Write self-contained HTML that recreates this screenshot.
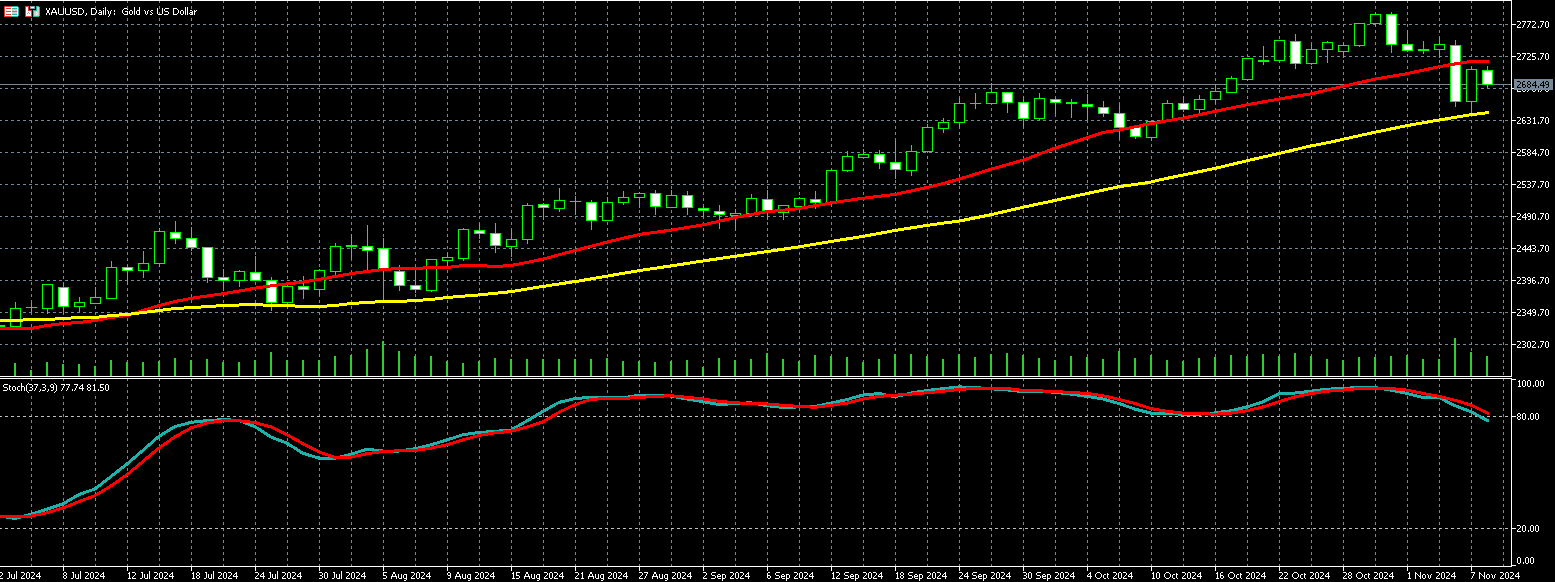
<!DOCTYPE html>
<html><head><meta charset="utf-8"><title>XAUUSD, Daily</title>
<style>
html,body{margin:0;padding:0;background:#000;overflow:hidden}
svg{display:block}
text{font-family:"Liberation Sans",sans-serif;fill:#fff}
</style></head><body>
<svg width="1555" height="582" viewBox="0 0 1555 582" shape-rendering="crispEdges">
<rect x="0" y="0" width="1555" height="582" fill="#000"/>
<g stroke="#778899" stroke-width="1" stroke-dasharray="3 3" fill="none">
<line x1="31.5" y1="0" x2="31.5" y2="376"/><line x1="31.5" y1="378" x2="31.5" y2="566"/>
<line x1="63.5" y1="0" x2="63.5" y2="376"/><line x1="63.5" y1="378" x2="63.5" y2="566"/>
<line x1="95.5" y1="0" x2="95.5" y2="376"/><line x1="95.5" y1="378" x2="95.5" y2="566"/>
<line x1="127.5" y1="0" x2="127.5" y2="376"/><line x1="127.5" y1="378" x2="127.5" y2="566"/>
<line x1="159.5" y1="0" x2="159.5" y2="376"/><line x1="159.5" y1="378" x2="159.5" y2="566"/>
<line x1="191.5" y1="0" x2="191.5" y2="376"/><line x1="191.5" y1="378" x2="191.5" y2="566"/>
<line x1="223.5" y1="0" x2="223.5" y2="376"/><line x1="223.5" y1="378" x2="223.5" y2="566"/>
<line x1="255.5" y1="0" x2="255.5" y2="376"/><line x1="255.5" y1="378" x2="255.5" y2="566"/>
<line x1="287.5" y1="0" x2="287.5" y2="376"/><line x1="287.5" y1="378" x2="287.5" y2="566"/>
<line x1="319.5" y1="0" x2="319.5" y2="376"/><line x1="319.5" y1="378" x2="319.5" y2="566"/>
<line x1="351.5" y1="0" x2="351.5" y2="376"/><line x1="351.5" y1="378" x2="351.5" y2="566"/>
<line x1="383.5" y1="0" x2="383.5" y2="376"/><line x1="383.5" y1="378" x2="383.5" y2="566"/>
<line x1="415.5" y1="0" x2="415.5" y2="376"/><line x1="415.5" y1="378" x2="415.5" y2="566"/>
<line x1="447.5" y1="0" x2="447.5" y2="376"/><line x1="447.5" y1="378" x2="447.5" y2="566"/>
<line x1="479.5" y1="0" x2="479.5" y2="376"/><line x1="479.5" y1="378" x2="479.5" y2="566"/>
<line x1="511.5" y1="0" x2="511.5" y2="376"/><line x1="511.5" y1="378" x2="511.5" y2="566"/>
<line x1="543.5" y1="0" x2="543.5" y2="376"/><line x1="543.5" y1="378" x2="543.5" y2="566"/>
<line x1="575.5" y1="0" x2="575.5" y2="376"/><line x1="575.5" y1="378" x2="575.5" y2="566"/>
<line x1="607.5" y1="0" x2="607.5" y2="376"/><line x1="607.5" y1="378" x2="607.5" y2="566"/>
<line x1="639.5" y1="0" x2="639.5" y2="376"/><line x1="639.5" y1="378" x2="639.5" y2="566"/>
<line x1="671.5" y1="0" x2="671.5" y2="376"/><line x1="671.5" y1="378" x2="671.5" y2="566"/>
<line x1="703.5" y1="0" x2="703.5" y2="376"/><line x1="703.5" y1="378" x2="703.5" y2="566"/>
<line x1="735.5" y1="0" x2="735.5" y2="376"/><line x1="735.5" y1="378" x2="735.5" y2="566"/>
<line x1="767.5" y1="0" x2="767.5" y2="376"/><line x1="767.5" y1="378" x2="767.5" y2="566"/>
<line x1="799.5" y1="0" x2="799.5" y2="376"/><line x1="799.5" y1="378" x2="799.5" y2="566"/>
<line x1="831.5" y1="0" x2="831.5" y2="376"/><line x1="831.5" y1="378" x2="831.5" y2="566"/>
<line x1="863.5" y1="0" x2="863.5" y2="376"/><line x1="863.5" y1="378" x2="863.5" y2="566"/>
<line x1="895.5" y1="0" x2="895.5" y2="376"/><line x1="895.5" y1="378" x2="895.5" y2="566"/>
<line x1="927.5" y1="0" x2="927.5" y2="376"/><line x1="927.5" y1="378" x2="927.5" y2="566"/>
<line x1="959.5" y1="0" x2="959.5" y2="376"/><line x1="959.5" y1="378" x2="959.5" y2="566"/>
<line x1="991.5" y1="0" x2="991.5" y2="376"/><line x1="991.5" y1="378" x2="991.5" y2="566"/>
<line x1="1023.5" y1="0" x2="1023.5" y2="376"/><line x1="1023.5" y1="378" x2="1023.5" y2="566"/>
<line x1="1055.5" y1="0" x2="1055.5" y2="376"/><line x1="1055.5" y1="378" x2="1055.5" y2="566"/>
<line x1="1087.5" y1="0" x2="1087.5" y2="376"/><line x1="1087.5" y1="378" x2="1087.5" y2="566"/>
<line x1="1119.5" y1="0" x2="1119.5" y2="376"/><line x1="1119.5" y1="378" x2="1119.5" y2="566"/>
<line x1="1151.5" y1="0" x2="1151.5" y2="376"/><line x1="1151.5" y1="378" x2="1151.5" y2="566"/>
<line x1="1183.5" y1="0" x2="1183.5" y2="376"/><line x1="1183.5" y1="378" x2="1183.5" y2="566"/>
<line x1="1215.5" y1="0" x2="1215.5" y2="376"/><line x1="1215.5" y1="378" x2="1215.5" y2="566"/>
<line x1="1247.5" y1="0" x2="1247.5" y2="376"/><line x1="1247.5" y1="378" x2="1247.5" y2="566"/>
<line x1="1279.5" y1="0" x2="1279.5" y2="376"/><line x1="1279.5" y1="378" x2="1279.5" y2="566"/>
<line x1="1311.5" y1="0" x2="1311.5" y2="376"/><line x1="1311.5" y1="378" x2="1311.5" y2="566"/>
<line x1="1343.5" y1="0" x2="1343.5" y2="376"/><line x1="1343.5" y1="378" x2="1343.5" y2="566"/>
<line x1="1375.5" y1="0" x2="1375.5" y2="376"/><line x1="1375.5" y1="378" x2="1375.5" y2="566"/>
<line x1="1407.5" y1="0" x2="1407.5" y2="376"/><line x1="1407.5" y1="378" x2="1407.5" y2="566"/>
<line x1="1439.5" y1="0" x2="1439.5" y2="376"/><line x1="1439.5" y1="378" x2="1439.5" y2="566"/>
<line x1="1471.5" y1="0" x2="1471.5" y2="376"/><line x1="1471.5" y1="378" x2="1471.5" y2="566"/>
<line x1="1503.5" y1="0" x2="1503.5" y2="376"/><line x1="1503.5" y1="378" x2="1503.5" y2="566"/>
<line x1="-1" y1="24.5" x2="1511" y2="24.5"/>
<line x1="-1" y1="56.5" x2="1511" y2="56.5"/>
<line x1="-1" y1="88.5" x2="1511" y2="88.5"/>
<line x1="-1" y1="120.5" x2="1511" y2="120.5"/>
<line x1="-1" y1="152.5" x2="1511" y2="152.5"/>
<line x1="-1" y1="184.5" x2="1511" y2="184.5"/>
<line x1="-1" y1="216.5" x2="1511" y2="216.5"/>
<line x1="-1" y1="248.5" x2="1511" y2="248.5"/>
<line x1="-1" y1="280.5" x2="1511" y2="280.5"/>
<line x1="-1" y1="312.5" x2="1511" y2="312.5"/>
<line x1="-1" y1="344.5" x2="1511" y2="344.5"/>
</g>
<g stroke="#c0c0c0" stroke-width="1" stroke-dasharray="3 3" fill="none">
<line x1="-1" y1="416.5" x2="1511" y2="416.5"/>
<line x1="-1" y1="528.5" x2="1511" y2="528.5"/>
</g>
<rect x="0" y="84" width="1511" height="1" fill="#778899"/>
<g fill="#32cd32">
<rect x="14" y="363" width="2" height="13"/><rect x="30" y="370" width="2" height="6"/><rect x="46" y="362" width="2" height="14"/><rect x="62" y="364" width="2" height="12"/><rect x="78" y="364" width="2" height="12"/><rect x="94" y="366" width="2" height="10"/><rect x="110" y="360" width="2" height="16"/><rect x="126" y="362" width="2" height="14"/><rect x="142" y="362" width="2" height="14"/><rect x="158" y="361" width="2" height="15"/><rect x="174" y="358" width="2" height="18"/><rect x="190" y="360" width="2" height="16"/><rect x="206" y="359" width="2" height="17"/><rect x="222" y="362" width="2" height="14"/><rect x="238" y="362" width="2" height="14"/><rect x="254" y="360" width="2" height="16"/><rect x="270" y="352" width="2" height="24"/><rect x="286" y="360" width="2" height="16"/><rect x="302" y="360" width="2" height="16"/><rect x="318" y="360" width="2" height="16"/><rect x="334" y="356" width="2" height="20"/><rect x="350" y="355" width="2" height="21"/><rect x="366" y="349" width="2" height="27"/><rect x="382" y="341" width="2" height="35"/><rect x="398" y="351" width="2" height="25"/><rect x="414" y="356" width="2" height="20"/><rect x="430" y="356" width="2" height="20"/><rect x="446" y="361" width="2" height="15"/><rect x="462" y="363" width="2" height="13"/><rect x="478" y="361" width="2" height="15"/><rect x="494" y="358" width="2" height="18"/><rect x="510" y="359" width="2" height="17"/><rect x="526" y="359" width="2" height="17"/><rect x="542" y="359" width="2" height="17"/><rect x="558" y="359" width="2" height="17"/><rect x="574" y="359" width="2" height="17"/><rect x="590" y="359" width="2" height="17"/><rect x="606" y="358" width="2" height="18"/><rect x="622" y="361" width="2" height="15"/><rect x="638" y="361" width="2" height="15"/><rect x="654" y="362" width="2" height="14"/><rect x="670" y="361" width="2" height="15"/><rect x="686" y="360" width="2" height="16"/><rect x="702" y="367" width="2" height="9"/><rect x="718" y="358" width="2" height="18"/><rect x="734" y="360" width="2" height="16"/><rect x="750" y="359" width="2" height="17"/><rect x="766" y="353" width="2" height="23"/><rect x="782" y="359" width="2" height="17"/><rect x="798" y="361" width="2" height="15"/><rect x="814" y="355" width="2" height="21"/><rect x="830" y="356" width="2" height="20"/><rect x="846" y="357" width="2" height="19"/><rect x="862" y="362" width="2" height="14"/><rect x="878" y="359" width="2" height="17"/><rect x="894" y="354" width="2" height="22"/><rect x="910" y="354" width="2" height="22"/><rect x="926" y="356" width="2" height="20"/><rect x="942" y="359" width="2" height="17"/><rect x="958" y="354" width="2" height="22"/><rect x="974" y="357" width="2" height="19"/><rect x="990" y="354" width="2" height="22"/><rect x="1006" y="353" width="2" height="23"/><rect x="1022" y="355" width="2" height="21"/><rect x="1038" y="358" width="2" height="18"/><rect x="1054" y="360" width="2" height="16"/><rect x="1070" y="356" width="2" height="20"/><rect x="1086" y="357" width="2" height="19"/><rect x="1102" y="359" width="2" height="17"/><rect x="1118" y="351" width="2" height="25"/><rect x="1134" y="358" width="2" height="18"/><rect x="1150" y="355" width="2" height="21"/><rect x="1166" y="360" width="2" height="16"/><rect x="1182" y="361" width="2" height="15"/><rect x="1198" y="358" width="2" height="18"/><rect x="1214" y="357" width="2" height="19"/><rect x="1230" y="355" width="2" height="21"/><rect x="1246" y="356" width="2" height="20"/><rect x="1262" y="354" width="2" height="22"/><rect x="1278" y="356" width="2" height="20"/><rect x="1294" y="353" width="2" height="23"/><rect x="1310" y="356" width="2" height="20"/><rect x="1326" y="359" width="2" height="17"/><rect x="1342" y="360" width="2" height="16"/><rect x="1358" y="357" width="2" height="19"/><rect x="1374" y="357" width="2" height="19"/><rect x="1390" y="356" width="2" height="20"/><rect x="1406" y="355" width="2" height="21"/><rect x="1422" y="359" width="2" height="17"/><rect x="1438" y="359" width="2" height="17"/><rect x="1454" y="338" width="2" height="38"/><rect x="1470" y="352" width="2" height="24"/><rect x="1486" y="356" width="2" height="20"/>
</g>
<g>
<rect x="0" y="325" width="5" height="2" fill="#00ff00"/>
<rect x="15" y="302" width="1" height="25" fill="#00ff00"/><rect x="10" y="308" width="11" height="19" fill="#00ff00"/><rect x="11" y="309" width="9" height="17" fill="#000"/>
<rect x="31" y="303" width="1" height="9" fill="#00ff00"/><rect x="26" y="307" width="11" height="1" fill="#00ff00"/>
<rect x="47" y="284" width="1" height="30" fill="#00ff00"/><rect x="42" y="284" width="11" height="25" fill="#00ff00"/><rect x="43" y="285" width="9" height="23" fill="#000"/>
<rect x="63" y="284" width="1" height="30" fill="#00ff00"/><rect x="58" y="287" width="11" height="20" fill="#00ff00"/><rect x="59" y="288" width="9" height="18" fill="#fff"/>
<rect x="79" y="297" width="1" height="15" fill="#00ff00"/><rect x="74" y="302" width="11" height="5" fill="#00ff00"/><rect x="75" y="303" width="9" height="3" fill="#000"/>
<rect x="95" y="287" width="1" height="17" fill="#00ff00"/><rect x="90" y="297" width="11" height="7" fill="#00ff00"/><rect x="91" y="298" width="9" height="5" fill="#000"/>
<rect x="111" y="261" width="1" height="38" fill="#00ff00"/><rect x="106" y="267" width="11" height="32" fill="#00ff00"/><rect x="107" y="268" width="9" height="30" fill="#000"/>
<rect x="127" y="265" width="1" height="20" fill="#00ff00"/><rect x="122" y="267" width="11" height="4" fill="#00ff00"/><rect x="123" y="268" width="9" height="2" fill="#fff"/>
<rect x="143" y="251" width="1" height="27" fill="#00ff00"/><rect x="138" y="263" width="11" height="8" fill="#00ff00"/><rect x="139" y="264" width="9" height="6" fill="#000"/>
<rect x="159" y="228" width="1" height="39" fill="#00ff00"/><rect x="154" y="231" width="11" height="33" fill="#00ff00"/><rect x="155" y="232" width="9" height="31" fill="#000"/>
<rect x="175" y="221" width="1" height="23" fill="#00ff00"/><rect x="170" y="232" width="11" height="7" fill="#00ff00"/><rect x="171" y="233" width="9" height="5" fill="#fff"/>
<rect x="191" y="227" width="1" height="24" fill="#00ff00"/><rect x="186" y="238" width="11" height="10" fill="#00ff00"/><rect x="187" y="239" width="9" height="8" fill="#fff"/>
<rect x="207" y="247" width="1" height="36" fill="#00ff00"/><rect x="202" y="247" width="11" height="31" fill="#00ff00"/><rect x="203" y="248" width="9" height="29" fill="#fff"/>
<rect x="223" y="269" width="1" height="22" fill="#00ff00"/><rect x="218" y="277" width="11" height="4" fill="#00ff00"/><rect x="219" y="278" width="9" height="2" fill="#fff"/>
<rect x="239" y="270" width="1" height="17" fill="#00ff00"/><rect x="234" y="271" width="11" height="10" fill="#00ff00"/><rect x="235" y="272" width="9" height="8" fill="#000"/>
<rect x="255" y="256" width="1" height="25" fill="#00ff00"/><rect x="250" y="272" width="11" height="9" fill="#00ff00"/><rect x="251" y="273" width="9" height="7" fill="#fff"/>
<rect x="271" y="277" width="1" height="34" fill="#00ff00"/><rect x="266" y="280" width="11" height="23" fill="#00ff00"/><rect x="267" y="281" width="9" height="21" fill="#fff"/>
<rect x="287" y="285" width="1" height="24" fill="#00ff00"/><rect x="282" y="286" width="11" height="17" fill="#00ff00"/><rect x="283" y="287" width="9" height="15" fill="#000"/>
<rect x="303" y="276" width="1" height="23" fill="#00ff00"/><rect x="298" y="286" width="11" height="4" fill="#00ff00"/><rect x="299" y="287" width="9" height="2" fill="#fff"/>
<rect x="319" y="269" width="1" height="27" fill="#00ff00"/><rect x="314" y="270" width="11" height="20" fill="#00ff00"/><rect x="315" y="271" width="9" height="18" fill="#000"/>
<rect x="335" y="243" width="1" height="32" fill="#00ff00"/><rect x="330" y="246" width="11" height="26" fill="#00ff00"/><rect x="331" y="247" width="9" height="24" fill="#000"/>
<rect x="351" y="234" width="1" height="25" fill="#00ff00"/><rect x="346" y="245" width="11" height="2" fill="#00ff00"/>
<rect x="367" y="225" width="1" height="45" fill="#00ff00"/><rect x="362" y="246" width="11" height="5" fill="#00ff00"/><rect x="363" y="247" width="9" height="3" fill="#fff"/>
<rect x="383" y="238" width="1" height="63" fill="#00ff00"/><rect x="378" y="248" width="11" height="22" fill="#00ff00"/><rect x="379" y="249" width="9" height="20" fill="#fff"/>
<rect x="399" y="265" width="1" height="26" fill="#00ff00"/><rect x="394" y="271" width="11" height="15" fill="#00ff00"/><rect x="395" y="272" width="9" height="13" fill="#fff"/>
<rect x="415" y="271" width="1" height="22" fill="#00ff00"/><rect x="410" y="285" width="11" height="5" fill="#00ff00"/><rect x="411" y="286" width="9" height="3" fill="#fff"/>
<rect x="431" y="259" width="1" height="33" fill="#00ff00"/><rect x="426" y="259" width="11" height="32" fill="#00ff00"/><rect x="427" y="260" width="9" height="30" fill="#000"/>
<rect x="447" y="253" width="1" height="13" fill="#00ff00"/><rect x="442" y="257" width="11" height="4" fill="#00ff00"/><rect x="443" y="258" width="9" height="2" fill="#000"/>
<rect x="463" y="228" width="1" height="33" fill="#00ff00"/><rect x="458" y="229" width="11" height="30" fill="#00ff00"/><rect x="459" y="230" width="9" height="28" fill="#000"/>
<rect x="479" y="224" width="1" height="15" fill="#00ff00"/><rect x="474" y="230" width="11" height="4" fill="#00ff00"/><rect x="475" y="231" width="9" height="2" fill="#fff"/>
<rect x="495" y="223" width="1" height="30" fill="#00ff00"/><rect x="490" y="233" width="11" height="13" fill="#00ff00"/><rect x="491" y="234" width="9" height="11" fill="#fff"/>
<rect x="511" y="229" width="1" height="28" fill="#00ff00"/><rect x="506" y="239" width="11" height="8" fill="#00ff00"/><rect x="507" y="240" width="9" height="6" fill="#000"/>
<rect x="527" y="203" width="1" height="41" fill="#00ff00"/><rect x="522" y="205" width="11" height="35" fill="#00ff00"/><rect x="523" y="206" width="9" height="33" fill="#000"/>
<rect x="543" y="203" width="1" height="17" fill="#00ff00"/><rect x="538" y="204" width="11" height="4" fill="#00ff00"/><rect x="539" y="205" width="9" height="2" fill="#fff"/>
<rect x="559" y="188" width="1" height="24" fill="#00ff00"/><rect x="554" y="200" width="11" height="9" fill="#00ff00"/><rect x="555" y="201" width="9" height="7" fill="#000"/>
<rect x="575" y="196" width="1" height="19" fill="#00ff00"/><rect x="570" y="201" width="11" height="1" fill="#00ff00"/>
<rect x="591" y="200" width="1" height="30" fill="#00ff00"/><rect x="586" y="202" width="11" height="19" fill="#00ff00"/><rect x="587" y="203" width="9" height="17" fill="#fff"/>
<rect x="607" y="197" width="1" height="24" fill="#00ff00"/><rect x="602" y="202" width="11" height="19" fill="#00ff00"/><rect x="603" y="203" width="9" height="17" fill="#000"/>
<rect x="623" y="191" width="1" height="14" fill="#00ff00"/><rect x="618" y="197" width="11" height="6" fill="#00ff00"/><rect x="619" y="198" width="9" height="4" fill="#000"/>
<rect x="639" y="192" width="1" height="16" fill="#00ff00"/><rect x="634" y="193" width="11" height="5" fill="#00ff00"/><rect x="635" y="194" width="9" height="3" fill="#000"/>
<rect x="655" y="190" width="1" height="25" fill="#00ff00"/><rect x="650" y="193" width="11" height="14" fill="#00ff00"/><rect x="651" y="194" width="9" height="12" fill="#fff"/>
<rect x="671" y="190" width="1" height="18" fill="#00ff00"/><rect x="666" y="195" width="11" height="13" fill="#00ff00"/><rect x="667" y="196" width="9" height="11" fill="#000"/>
<rect x="687" y="191" width="1" height="24" fill="#00ff00"/><rect x="682" y="195" width="11" height="13" fill="#00ff00"/><rect x="683" y="196" width="9" height="11" fill="#fff"/>
<rect x="703" y="206" width="1" height="11" fill="#00ff00"/><rect x="698" y="208" width="11" height="3" fill="#00ff00"/><rect x="699" y="209" width="9" height="1" fill="#fff"/>
<rect x="719" y="205" width="1" height="24" fill="#00ff00"/><rect x="714" y="211" width="11" height="4" fill="#00ff00"/><rect x="715" y="212" width="9" height="2" fill="#fff"/>
<rect x="735" y="209" width="1" height="22" fill="#00ff00"/><rect x="730" y="213" width="11" height="3" fill="#00ff00"/><rect x="731" y="214" width="9" height="1" fill="#000"/>
<rect x="751" y="194" width="1" height="20" fill="#00ff00"/><rect x="746" y="198" width="11" height="16" fill="#00ff00"/><rect x="747" y="199" width="9" height="14" fill="#000"/>
<rect x="767" y="190" width="1" height="30" fill="#00ff00"/><rect x="762" y="199" width="11" height="12" fill="#00ff00"/><rect x="763" y="200" width="9" height="10" fill="#fff"/>
<rect x="783" y="205" width="1" height="15" fill="#00ff00"/><rect x="778" y="205" width="11" height="8" fill="#00ff00"/><rect x="779" y="206" width="9" height="6" fill="#000"/>
<rect x="799" y="197" width="1" height="10" fill="#00ff00"/><rect x="794" y="198" width="11" height="9" fill="#00ff00"/><rect x="795" y="199" width="9" height="7" fill="#000"/>
<rect x="815" y="191" width="1" height="18" fill="#00ff00"/><rect x="810" y="199" width="11" height="4" fill="#00ff00"/><rect x="811" y="200" width="9" height="2" fill="#fff"/>
<rect x="831" y="169" width="1" height="34" fill="#00ff00"/><rect x="826" y="170" width="11" height="33" fill="#00ff00"/><rect x="827" y="171" width="9" height="31" fill="#000"/>
<rect x="847" y="151" width="1" height="21" fill="#00ff00"/><rect x="842" y="156" width="11" height="15" fill="#00ff00"/><rect x="843" y="157" width="9" height="13" fill="#000"/>
<rect x="863" y="149" width="1" height="9" fill="#00ff00"/><rect x="858" y="154" width="11" height="4" fill="#00ff00"/><rect x="859" y="155" width="9" height="2" fill="#000"/>
<rect x="879" y="150" width="1" height="19" fill="#00ff00"/><rect x="874" y="154" width="11" height="9" fill="#00ff00"/><rect x="875" y="155" width="9" height="7" fill="#fff"/>
<rect x="895" y="141" width="1" height="38" fill="#00ff00"/><rect x="890" y="162" width="11" height="8" fill="#00ff00"/><rect x="891" y="163" width="9" height="6" fill="#fff"/>
<rect x="911" y="145" width="1" height="31" fill="#00ff00"/><rect x="906" y="151" width="11" height="20" fill="#00ff00"/><rect x="907" y="152" width="9" height="18" fill="#000"/>
<rect x="927" y="124" width="1" height="29" fill="#00ff00"/><rect x="922" y="127" width="11" height="25" fill="#00ff00"/><rect x="923" y="128" width="9" height="23" fill="#000"/>
<rect x="943" y="118" width="1" height="15" fill="#00ff00"/><rect x="938" y="122" width="11" height="7" fill="#00ff00"/><rect x="939" y="123" width="9" height="5" fill="#000"/>
<rect x="959" y="98" width="1" height="29" fill="#00ff00"/><rect x="954" y="103" width="11" height="20" fill="#00ff00"/><rect x="955" y="104" width="9" height="18" fill="#000"/>
<rect x="975" y="93" width="1" height="16" fill="#00ff00"/><rect x="970" y="103" width="11" height="1" fill="#00ff00"/>
<rect x="991" y="83" width="1" height="22" fill="#00ff00"/><rect x="986" y="92" width="11" height="12" fill="#00ff00"/><rect x="987" y="93" width="9" height="10" fill="#000"/>
<rect x="1007" y="92" width="1" height="21" fill="#00ff00"/><rect x="1002" y="92" width="11" height="11" fill="#00ff00"/><rect x="1003" y="93" width="9" height="9" fill="#fff"/>
<rect x="1023" y="97" width="1" height="30" fill="#00ff00"/><rect x="1018" y="102" width="11" height="17" fill="#00ff00"/><rect x="1019" y="103" width="9" height="15" fill="#fff"/>
<rect x="1039" y="93" width="1" height="27" fill="#00ff00"/><rect x="1034" y="98" width="11" height="21" fill="#00ff00"/><rect x="1035" y="99" width="9" height="19" fill="#000"/>
<rect x="1055" y="98" width="1" height="16" fill="#00ff00"/><rect x="1050" y="99" width="11" height="4" fill="#00ff00"/><rect x="1051" y="100" width="9" height="2" fill="#fff"/>
<rect x="1071" y="99" width="1" height="19" fill="#00ff00"/><rect x="1066" y="102" width="11" height="2" fill="#00ff00"/>
<rect x="1087" y="94" width="1" height="26" fill="#00ff00"/><rect x="1082" y="104" width="11" height="3" fill="#00ff00"/><rect x="1083" y="105" width="9" height="1" fill="#fff"/>
<rect x="1103" y="101" width="1" height="16" fill="#00ff00"/><rect x="1098" y="107" width="11" height="7" fill="#00ff00"/><rect x="1099" y="108" width="9" height="5" fill="#fff"/>
<rect x="1119" y="105" width="1" height="34" fill="#00ff00"/><rect x="1114" y="113" width="11" height="15" fill="#00ff00"/><rect x="1115" y="114" width="9" height="13" fill="#fff"/>
<rect x="1135" y="127" width="1" height="12" fill="#00ff00"/><rect x="1130" y="127" width="11" height="10" fill="#00ff00"/><rect x="1131" y="128" width="9" height="8" fill="#fff"/>
<rect x="1151" y="121" width="1" height="20" fill="#00ff00"/><rect x="1146" y="121" width="11" height="17" fill="#00ff00"/><rect x="1147" y="122" width="9" height="15" fill="#000"/>
<rect x="1167" y="100" width="1" height="21" fill="#00ff00"/><rect x="1162" y="103" width="11" height="18" fill="#00ff00"/><rect x="1163" y="104" width="9" height="16" fill="#000"/>
<rect x="1183" y="96" width="1" height="16" fill="#00ff00"/><rect x="1178" y="103" width="11" height="7" fill="#00ff00"/><rect x="1179" y="104" width="9" height="5" fill="#fff"/>
<rect x="1199" y="95" width="1" height="19" fill="#00ff00"/><rect x="1194" y="99" width="11" height="11" fill="#00ff00"/><rect x="1195" y="100" width="9" height="9" fill="#000"/>
<rect x="1215" y="84" width="1" height="20" fill="#00ff00"/><rect x="1210" y="91" width="11" height="9" fill="#00ff00"/><rect x="1211" y="92" width="9" height="7" fill="#000"/>
<rect x="1231" y="76" width="1" height="17" fill="#00ff00"/><rect x="1226" y="78" width="11" height="15" fill="#00ff00"/><rect x="1227" y="79" width="9" height="13" fill="#000"/>
<rect x="1247" y="58" width="1" height="23" fill="#00ff00"/><rect x="1242" y="58" width="11" height="22" fill="#00ff00"/><rect x="1243" y="59" width="9" height="20" fill="#000"/>
<rect x="1263" y="46" width="1" height="19" fill="#00ff00"/><rect x="1258" y="60" width="11" height="2" fill="#00ff00"/>
<rect x="1279" y="40" width="1" height="22" fill="#00ff00"/><rect x="1274" y="40" width="11" height="21" fill="#00ff00"/><rect x="1275" y="41" width="9" height="19" fill="#000"/>
<rect x="1295" y="34" width="1" height="35" fill="#00ff00"/><rect x="1290" y="41" width="11" height="23" fill="#00ff00"/><rect x="1291" y="42" width="9" height="21" fill="#fff"/>
<rect x="1311" y="44" width="1" height="21" fill="#00ff00"/><rect x="1306" y="49" width="11" height="15" fill="#00ff00"/><rect x="1307" y="50" width="9" height="13" fill="#000"/>
<rect x="1327" y="41" width="1" height="22" fill="#00ff00"/><rect x="1322" y="42" width="11" height="8" fill="#00ff00"/><rect x="1323" y="43" width="9" height="6" fill="#000"/>
<rect x="1343" y="43" width="1" height="15" fill="#00ff00"/><rect x="1338" y="45" width="11" height="7" fill="#00ff00"/><rect x="1339" y="46" width="9" height="5" fill="#000"/>
<rect x="1359" y="23" width="1" height="24" fill="#00ff00"/><rect x="1354" y="23" width="11" height="23" fill="#00ff00"/><rect x="1355" y="24" width="9" height="21" fill="#000"/>
<rect x="1375" y="12" width="1" height="14" fill="#00ff00"/><rect x="1370" y="14" width="11" height="10" fill="#00ff00"/><rect x="1371" y="15" width="9" height="8" fill="#000"/>
<rect x="1391" y="12" width="1" height="41" fill="#00ff00"/><rect x="1386" y="14" width="11" height="31" fill="#00ff00"/><rect x="1387" y="15" width="9" height="29" fill="#fff"/>
<rect x="1407" y="30" width="1" height="22" fill="#00ff00"/><rect x="1402" y="44" width="11" height="7" fill="#00ff00"/><rect x="1403" y="45" width="9" height="5" fill="#fff"/>
<rect x="1423" y="41" width="1" height="13" fill="#00ff00"/><rect x="1418" y="49" width="11" height="2" fill="#00ff00"/>
<rect x="1439" y="37" width="1" height="21" fill="#00ff00"/><rect x="1434" y="44" width="11" height="6" fill="#00ff00"/><rect x="1435" y="45" width="9" height="4" fill="#000"/>
<rect x="1455" y="40" width="1" height="67" fill="#00ff00"/><rect x="1450" y="45" width="11" height="57" fill="#00ff00"/><rect x="1451" y="46" width="9" height="55" fill="#fff"/>
<rect x="1471" y="66" width="1" height="47" fill="#00ff00"/><rect x="1466" y="69" width="11" height="33" fill="#00ff00"/><rect x="1467" y="70" width="9" height="31" fill="#000"/>
<rect x="1487" y="66" width="1" height="22" fill="#00ff00"/><rect x="1482" y="70" width="11" height="15" fill="#00ff00"/><rect x="1483" y="71" width="9" height="13" fill="#fff"/>
</g>
<polyline points="-1.0,328.5 15.0,328.5 31.0,328.5 47.0,325.5 63.0,323.5 79.0,322.5 95.0,320.5 111.0,317.5 127.0,315.5 143.0,310.5 159.0,305.5 175.0,301.5 195.0,297.7 223.5,293.7 255.0,288.2 271.0,285.8 303.0,282.0 319.0,279.4 351.0,273.6 367.0,271.5 383.0,269.5 399.0,268.5 415.0,268.5 431.0,267.5 447.0,267.5 463.0,265.5 479.0,265.5 495.0,266.5 511.0,265.5 527.0,262.5 543.7,258.9 575.0,250.5 607.0,242.1 639.6,234.4 671.8,230.0 703.5,224.8 735.0,217.6 765.0,212.0 798.7,208.6 831.0,202.9 863.0,198.2 895.0,194.4 927.5,187.4 955.0,180.4 991.0,169.2 1023.5,160.1 1055.7,147.9 1088.0,137.6 1103.0,132.5 1120.0,129.9 1145.0,124.7 1183.8,118.0 1216.0,111.1 1248.0,104.6 1280.5,98.8 1311.0,93.8 1343.0,86.3 1375.0,79.1 1407.6,73.5 1440.0,66.5 1455.0,63.9 1471.0,61.3 1488.0,61.3" fill="none" stroke="#ff0000" stroke-width="3" stroke-linejoin="round" stroke-linecap="round"/>
<polyline points="-1.0,320.5 15.0,320.5 31.0,319.5 47.0,319.5 63.0,318.5 79.0,317.5 95.0,317.5 111.0,315.5 127.0,314.5 143.0,312.5 159.0,310.5 175.0,308.5 195.0,307.4 223.5,305.5 255.0,304.5 271.0,305.5 287.0,305.5 303.0,306.5 319.0,306.5 335.0,305.5 351.0,303.5 367.0,302.5 383.0,301.5 399.0,301.5 415.0,300.5 431.0,299.5 447.0,297.5 479.0,294.9 511.4,291.6 543.7,286.3 580.0,280.8 639.6,270.5 671.8,265.8 703.5,260.9 735.0,256.3 770.0,251.1 799.0,246.9 831.4,241.4 863.7,236.3 895.0,230.5 927.5,225.3 960.0,220.9 991.5,214.6 1023.4,207.2 1055.7,200.3 1088.0,193.3 1120.0,186.5 1150.0,182.3 1159.5,179.9 1183.6,174.9 1215.5,168.3 1248.0,160.5 1280.5,153.1 1311.0,145.9 1330.0,142.3 1343.0,139.3 1375.0,132.2 1407.6,125.5 1440.0,119.8 1471.0,114.7 1488.0,112.6" fill="none" stroke="#ffff00" stroke-width="3" stroke-linejoin="round" stroke-linecap="round"/>
<polyline points="0.0,516.1 15.0,518.4 31.0,514.4 47.0,509.2 63.0,503.9 79.0,494.5 95.0,489.0 111.0,476.5 127.0,464.0 143.0,450.3 159.0,436.3 175.0,426.5 191.0,422.4 207.0,420.6 223.0,419.7 239.0,420.3 255.0,426.7 271.0,437.0 287.0,443.2 303.0,453.3 319.0,458.2 335.0,458.2 351.0,454.2 367.0,449.2 383.0,451.0 399.0,451.0 415.0,448.8 431.0,444.8 447.0,439.9 463.0,434.7 479.0,432.5 495.0,431.4 511.0,430.0 527.0,420.9 543.0,411.3 559.0,402.4 575.0,398.6 591.0,397.3 607.0,397.9 623.0,397.9 639.0,395.2 655.0,395.0 671.0,396.1 687.0,399.0 703.0,401.7 719.0,404.6 735.0,403.5 751.0,402.8 767.0,405.7 783.0,407.5 799.0,406.9 815.0,406.4 831.0,403.1 847.0,399.5 863.0,395.0 879.0,393.5 895.0,396.8 911.0,393.0 927.0,390.5 943.0,388.7 959.0,386.9 975.0,387.6 991.0,388.8 1007.0,389.9 1023.0,391.7 1039.0,391.2 1055.0,392.3 1071.0,394.1 1087.0,396.4 1103.0,399.0 1119.0,403.5 1135.0,409.1 1151.0,413.1 1167.0,413.6 1183.0,414.2 1199.0,414.2 1215.0,412.9 1231.0,410.7 1247.0,406.9 1263.0,401.9 1279.0,393.9 1295.0,393.0 1311.0,391.2 1327.0,389.2 1343.0,388.4 1359.0,387.5 1375.0,387.5 1391.0,390.1 1407.0,393.5 1423.0,397.5 1439.0,397.5 1455.0,405.7 1471.0,411.8 1487.0,420.3 1487.8,420.6" fill="none" stroke="#20b2aa" stroke-width="3" stroke-linejoin="round" stroke-linecap="round"/>
<polyline points="0.0,516.4 15.0,517.0 31.0,516.1 47.0,512.8 63.0,507.9 79.0,501.6 95.0,495.6 111.0,486.0 127.0,474.8 143.0,461.4 159.0,448.0 175.0,436.9 191.0,427.9 207.0,423.0 223.0,420.8 239.0,420.8 255.0,422.6 271.0,426.9 287.0,434.7 303.0,443.7 319.0,451.9 335.0,457.5 351.0,457.1 367.0,453.7 383.0,451.5 399.0,450.8 415.0,450.4 431.0,448.1 447.0,444.8 463.0,439.9 479.0,435.4 495.0,432.9 511.0,431.2 527.0,427.0 543.0,421.8 559.0,412.4 575.0,404.6 591.0,399.5 607.0,398.4 623.0,398.4 639.0,397.5 655.0,396.4 671.0,395.7 687.0,397.3 703.0,399.0 719.0,401.3 735.0,402.8 751.0,403.5 767.0,404.0 783.0,405.3 799.0,406.4 815.0,407.3 831.0,405.3 847.0,403.1 863.0,399.0 879.0,396.4 895.0,395.2 911.0,394.1 927.0,392.8 943.0,391.2 959.0,389.4 975.0,388.5 991.0,388.5 1007.0,388.5 1023.0,390.5 1039.0,390.8 1055.0,391.7 1071.0,392.3 1087.0,393.5 1103.0,395.7 1119.0,399.5 1135.0,403.5 1151.0,408.6 1167.0,411.3 1183.0,413.1 1199.0,413.6 1215.0,414.2 1231.0,413.1 1247.0,410.7 1263.0,406.9 1279.0,401.7 1295.0,396.8 1311.0,393.5 1327.0,391.2 1343.0,390.1 1359.0,388.5 1375.0,388.3 1391.0,388.5 1407.0,390.1 1423.0,393.5 1439.0,396.4 1455.0,400.2 1471.0,405.1 1487.0,412.9 1487.8,413.2" fill="none" stroke="#ff0000" stroke-width="3" stroke-linejoin="round" stroke-linecap="round"/>
<rect x="0" y="381" width="112" height="13" fill="#000"/>
<g fill="#fff">
<rect x="0" y="0" width="1512" height="1"/><rect x="1511" y="0" width="1" height="377"/><rect x="1511" y="378" width="1" height="189"/><rect x="0" y="376" width="1512" height="1"/><rect x="0" y="378" width="1512" height="1"/><rect x="0" y="566" width="1512" height="1"/><rect x="1512" y="24" width="4" height="1"/><rect x="1512" y="56" width="4" height="1"/><rect x="1512" y="88" width="4" height="1"/><rect x="1512" y="120" width="4" height="1"/><rect x="1512" y="152" width="4" height="1"/><rect x="1512" y="184" width="4" height="1"/><rect x="1512" y="216" width="4" height="1"/><rect x="1512" y="248" width="4" height="1"/><rect x="1512" y="280" width="4" height="1"/><rect x="1512" y="312" width="4" height="1"/><rect x="1512" y="344" width="4" height="1"/><rect x="1512" y="379" width="4" height="1"/><rect x="1512" y="416" width="4" height="1"/><rect x="1512" y="528" width="4" height="1"/><rect x="1512" y="565" width="4" height="1"/><rect x="-1" y="567" width="1" height="4"/><rect x="63" y="567" width="1" height="4"/><rect x="127" y="567" width="1" height="4"/><rect x="191" y="567" width="1" height="4"/><rect x="255" y="567" width="1" height="4"/><rect x="319" y="567" width="1" height="4"/><rect x="383" y="567" width="1" height="4"/><rect x="447" y="567" width="1" height="4"/><rect x="511" y="567" width="1" height="4"/><rect x="575" y="567" width="1" height="4"/><rect x="639" y="567" width="1" height="4"/><rect x="703" y="567" width="1" height="4"/><rect x="767" y="567" width="1" height="4"/><rect x="831" y="567" width="1" height="4"/><rect x="895" y="567" width="1" height="4"/><rect x="959" y="567" width="1" height="4"/><rect x="1023" y="567" width="1" height="4"/><rect x="1087" y="567" width="1" height="4"/><rect x="1151" y="567" width="1" height="4"/><rect x="1215" y="567" width="1" height="4"/><rect x="1279" y="567" width="1" height="4"/><rect x="1343" y="567" width="1" height="4"/><rect x="1407" y="567" width="1" height="4"/><rect x="1471" y="567" width="1" height="4"/>
</g>
<defs><path id="g28" d="M2 0h1v1h-1zM1 1h1v1h-1zM0 2h1v1h-1zM0 3h1v1h-1zM0 4h1v1h-1zM0 5h1v1h-1zM0 6h1v1h-1zM0 7h1v1h-1zM1 8h1v1h-1zM2 9h1v1h-1z"/><path id="g29" d="M-1 0h1v1h-1zM0 1h1v1h-1zM1 2h1v1h-1zM1 3h1v1h-1zM1 4h1v1h-1zM1 5h1v1h-1zM1 6h1v1h-1zM1 7h1v1h-1zM0 8h1v1h-1zM-1 9h1v1h-1z"/><path id="g2c" d="M1 6h1v1h-1zM1 7h1v1h-1zM0 8h1v1h-1z"/><path id="g2e" d="M1 6h1v1h-1zM1 7h1v1h-1z"/><path id="g30" d="M1 1h2v1h-2zM0 2h1v1h-1zM3 2h1v1h-1zM0 3h1v1h-1zM3 3h1v1h-1zM0 4h1v1h-1zM3 4h1v1h-1zM0 5h1v1h-1zM3 5h1v1h-1zM0 6h1v1h-1zM3 6h1v1h-1zM1 7h2v1h-2z"/><path id="g31" d="M2 1h1v1h-1zM1 2h2v1h-2zM2 3h1v1h-1zM2 4h1v1h-1zM2 5h1v1h-1zM2 6h1v1h-1zM1 7h3v1h-3z"/><path id="g32" d="M0 1h3v1h-3zM3 2h1v1h-1zM3 3h1v1h-1zM2 4h1v1h-1zM1 5h1v1h-1zM0 6h1v1h-1zM0 7h4v1h-4z"/><path id="g33" d="M0 1h3v1h-3zM3 2h1v1h-1zM3 3h1v1h-1zM1 4h2v1h-2zM3 5h1v1h-1zM3 6h1v1h-1zM0 7h3v1h-3z"/><path id="g34" d="M3 1h1v1h-1zM2 2h2v1h-2zM1 3h1v1h-1zM3 3h1v1h-1zM0 4h1v1h-1zM3 4h1v1h-1zM0 5h5v1h-5zM3 6h1v1h-1zM3 7h1v1h-1z"/><path id="g35" d="M0 1h4v1h-4zM0 2h1v1h-1zM0 3h1v1h-1zM0 4h3v1h-3zM3 5h1v1h-1zM3 6h1v1h-1zM0 7h3v1h-3z"/><path id="g36" d="M1 1h2v1h-2zM0 2h1v1h-1zM0 3h1v1h-1zM0 4h3v1h-3zM0 5h1v1h-1zM3 5h1v1h-1zM0 6h1v1h-1zM3 6h1v1h-1zM1 7h2v1h-2z"/><path id="g37" d="M0 1h4v1h-4zM3 2h1v1h-1zM2 3h1v1h-1zM2 4h1v1h-1zM1 5h1v1h-1zM1 6h1v1h-1zM0 7h1v1h-1z"/><path id="g38" d="M1 1h2v1h-2zM0 2h1v1h-1zM3 2h1v1h-1zM0 3h1v1h-1zM3 3h1v1h-1zM1 4h2v1h-2zM0 5h1v1h-1zM3 5h1v1h-1zM0 6h1v1h-1zM3 6h1v1h-1zM1 7h2v1h-2z"/><path id="g39" d="M1 1h2v1h-2zM0 2h1v1h-1zM3 2h1v1h-1zM0 3h1v1h-1zM3 3h1v1h-1zM1 4h3v1h-3zM3 5h1v1h-1zM3 6h1v1h-1zM1 7h2v1h-2z"/><path id="g3a" d="M1 3h1v1h-1zM1 4h1v1h-1zM1 6h1v1h-1zM1 7h1v1h-1z"/><path id="g41" d="M2 1h2v1h-2zM2 2h2v1h-2zM1 3h1v1h-1zM4 3h1v1h-1zM1 4h1v1h-1zM4 4h1v1h-1zM0 5h6v1h-6zM0 6h1v1h-1zM5 6h1v1h-1zM0 7h1v1h-1zM5 7h1v1h-1z"/><path id="g44" d="M0 1h4v1h-4zM0 2h1v1h-1zM4 2h1v1h-1zM0 3h1v1h-1zM5 3h1v1h-1zM0 4h1v1h-1zM5 4h1v1h-1zM0 5h1v1h-1zM5 5h1v1h-1zM0 6h1v1h-1zM4 6h1v1h-1zM0 7h4v1h-4z"/><path id="g47" d="M2 1h3v1h-3zM1 2h1v1h-1zM5 2h1v1h-1zM0 3h1v1h-1zM0 4h1v1h-1zM3 4h3v1h-3zM0 5h1v1h-1zM5 5h1v1h-1zM1 6h1v1h-1zM5 6h1v1h-1zM2 7h4v1h-4z"/><path id="g4a" d="M1 1h2v1h-2zM2 2h1v1h-1zM2 3h1v1h-1zM2 4h1v1h-1zM2 5h1v1h-1zM2 6h1v1h-1zM0 7h2v1h-2z"/><path id="g4e" d="M0 1h1v1h-1zM5 1h1v1h-1zM0 2h2v1h-2zM5 2h1v1h-1zM0 3h1v1h-1zM2 3h1v1h-1zM5 3h1v1h-1zM0 4h1v1h-1zM3 4h1v1h-1zM5 4h1v1h-1zM0 5h1v1h-1zM4 5h2v1h-2zM0 6h1v1h-1zM5 6h1v1h-1zM0 7h1v1h-1zM5 7h1v1h-1z"/><path id="g4f" d="M2 1h3v1h-3zM1 2h1v1h-1zM5 2h1v1h-1zM0 3h1v1h-1zM6 3h1v1h-1zM0 4h1v1h-1zM6 4h1v1h-1zM0 5h1v1h-1zM6 5h1v1h-1zM1 6h1v1h-1zM5 6h1v1h-1zM2 7h3v1h-3z"/><path id="g53" d="M1 1h4v1h-4zM0 2h1v1h-1zM0 3h1v1h-1zM1 4h3v1h-3zM4 5h1v1h-1zM4 6h1v1h-1zM0 7h4v1h-4z"/><path id="g55" d="M0 1h1v1h-1zM5 1h1v1h-1zM0 2h1v1h-1zM5 2h1v1h-1zM0 3h1v1h-1zM5 3h1v1h-1zM0 4h1v1h-1zM5 4h1v1h-1zM0 5h1v1h-1zM5 5h1v1h-1zM0 6h1v1h-1zM5 6h1v1h-1zM1 7h4v1h-4z"/><path id="g58" d="M0 1h1v1h-1zM3 1h1v1h-1zM0 2h1v1h-1zM3 2h1v1h-1zM1 3h2v1h-2zM1 4h2v1h-2zM1 5h2v1h-2zM0 6h1v1h-1zM3 6h1v1h-1zM0 7h1v1h-1zM3 7h1v1h-1z"/><path id="g61" d="M1 3h2v1h-2zM3 4h1v1h-1zM1 5h3v1h-3zM0 6h1v1h-1zM3 6h1v1h-1zM1 7h3v1h-3z"/><path id="g63" d="M1 3h2v1h-2zM0 4h1v1h-1zM0 5h1v1h-1zM0 6h1v1h-1zM1 7h2v1h-2z"/><path id="g64" d="M3 0h1v1h-1zM3 1h1v1h-1zM3 2h1v1h-1zM1 3h3v1h-3zM0 4h1v1h-1zM3 4h1v1h-1zM0 5h1v1h-1zM3 5h1v1h-1zM0 6h1v1h-1zM3 6h1v1h-1zM1 7h3v1h-3z"/><path id="g65" d="M1 3h2v1h-2zM0 4h1v1h-1zM3 4h1v1h-1zM0 5h4v1h-4zM0 6h1v1h-1zM1 7h3v1h-3z"/><path id="g67" d="M1 3h3v1h-3zM0 4h1v1h-1zM3 4h1v1h-1zM0 5h1v1h-1zM3 5h1v1h-1zM0 6h1v1h-1zM3 6h1v1h-1zM1 7h3v1h-3zM3 8h1v1h-1zM1 9h2v1h-2z"/><path id="g68" d="M0 0h1v1h-1zM0 1h1v1h-1zM0 2h1v1h-1zM0 3h3v1h-3zM0 4h1v1h-1zM3 4h1v1h-1zM0 5h1v1h-1zM3 5h1v1h-1zM0 6h1v1h-1zM3 6h1v1h-1zM0 7h1v1h-1zM3 7h1v1h-1z"/><path id="g69" d="M0 1h1v1h-1zM0 3h1v1h-1zM0 4h1v1h-1zM0 5h1v1h-1zM0 6h1v1h-1zM0 7h1v1h-1z"/><path id="g6c" d="M0 0h1v1h-1zM0 1h1v1h-1zM0 2h1v1h-1zM0 3h1v1h-1zM0 4h1v1h-1zM0 5h1v1h-1zM0 6h1v1h-1zM0 7h1v1h-1z"/><path id="g6f" d="M1 3h2v1h-2zM0 4h1v1h-1zM3 4h1v1h-1zM0 5h1v1h-1zM3 5h1v1h-1zM0 6h1v1h-1zM3 6h1v1h-1zM1 7h2v1h-2z"/><path id="g70" d="M0 3h3v1h-3zM0 4h1v1h-1zM3 4h1v1h-1zM0 5h1v1h-1zM3 5h1v1h-1zM0 6h1v1h-1zM3 6h1v1h-1zM0 7h3v1h-3zM0 8h1v1h-1zM0 9h1v1h-1z"/><path id="g72" d="M0 3h1v1h-1zM2 3h1v1h-1zM0 4h2v1h-2zM0 5h1v1h-1zM0 6h1v1h-1zM0 7h1v1h-1z"/><path id="g73" d="M1 3h2v1h-2zM0 4h1v1h-1zM1 5h1v1h-1zM2 6h1v1h-1zM0 7h2v1h-2z"/><path id="g74" d="M0 2h1v1h-1zM0 3h2v1h-2zM0 4h1v1h-1zM0 5h1v1h-1zM0 6h1v1h-1zM1 7h1v1h-1z"/><path id="g75" d="M0 3h1v1h-1zM3 3h1v1h-1zM0 4h1v1h-1zM3 4h1v1h-1zM0 5h1v1h-1zM3 5h1v1h-1zM0 6h1v1h-1zM3 6h1v1h-1zM1 7h3v1h-3z"/><path id="g76" d="M0 3h1v1h-1zM4 3h1v1h-1zM1 4h1v1h-1zM3 4h1v1h-1zM1 5h1v1h-1zM3 5h1v1h-1zM1 6h1v1h-1zM3 6h1v1h-1zM2 7h1v1h-1z"/><path id="g79" d="M0 3h1v1h-1zM4 3h1v1h-1zM1 4h1v1h-1zM3 4h1v1h-1zM1 5h1v1h-1zM3 5h1v1h-1zM1 6h1v1h-1zM3 6h1v1h-1zM2 7h1v1h-1zM2 8h1v1h-1zM1 9h1v1h-1z"/></defs>
<g fill="#fff">
<use href="#g32" x="1517" y="20"/><use href="#g37" x="1522" y="20"/><use href="#g37" x="1527" y="20"/><use href="#g32" x="1532" y="20"/><use href="#g2e" x="1537" y="20"/><use href="#g37" x="1540" y="20"/><use href="#g30" x="1545" y="20"/>
<use href="#g32" x="1517" y="52"/><use href="#g37" x="1522" y="52"/><use href="#g32" x="1527" y="52"/><use href="#g35" x="1532" y="52"/><use href="#g2e" x="1537" y="52"/><use href="#g37" x="1540" y="52"/><use href="#g30" x="1545" y="52"/>
<use href="#g32" x="1517" y="84"/><use href="#g36" x="1522" y="84"/><use href="#g37" x="1527" y="84"/><use href="#g38" x="1532" y="84"/><use href="#g2e" x="1537" y="84"/><use href="#g37" x="1540" y="84"/><use href="#g30" x="1545" y="84"/>
<use href="#g32" x="1517" y="116"/><use href="#g36" x="1522" y="116"/><use href="#g33" x="1527" y="116"/><use href="#g31" x="1532" y="116"/><use href="#g2e" x="1537" y="116"/><use href="#g37" x="1540" y="116"/><use href="#g30" x="1545" y="116"/>
<use href="#g32" x="1517" y="148"/><use href="#g35" x="1522" y="148"/><use href="#g38" x="1527" y="148"/><use href="#g34" x="1532" y="148"/><use href="#g2e" x="1537" y="148"/><use href="#g37" x="1540" y="148"/><use href="#g30" x="1545" y="148"/>
<use href="#g32" x="1517" y="180"/><use href="#g35" x="1522" y="180"/><use href="#g33" x="1527" y="180"/><use href="#g37" x="1532" y="180"/><use href="#g2e" x="1537" y="180"/><use href="#g37" x="1540" y="180"/><use href="#g30" x="1545" y="180"/>
<use href="#g32" x="1517" y="212"/><use href="#g34" x="1522" y="212"/><use href="#g39" x="1527" y="212"/><use href="#g30" x="1532" y="212"/><use href="#g2e" x="1537" y="212"/><use href="#g37" x="1540" y="212"/><use href="#g30" x="1545" y="212"/>
<use href="#g32" x="1517" y="244"/><use href="#g34" x="1522" y="244"/><use href="#g34" x="1527" y="244"/><use href="#g33" x="1532" y="244"/><use href="#g2e" x="1537" y="244"/><use href="#g37" x="1540" y="244"/><use href="#g30" x="1545" y="244"/>
<use href="#g32" x="1517" y="276"/><use href="#g33" x="1522" y="276"/><use href="#g39" x="1527" y="276"/><use href="#g36" x="1532" y="276"/><use href="#g2e" x="1537" y="276"/><use href="#g37" x="1540" y="276"/><use href="#g30" x="1545" y="276"/>
<use href="#g32" x="1517" y="308"/><use href="#g33" x="1522" y="308"/><use href="#g34" x="1527" y="308"/><use href="#g39" x="1532" y="308"/><use href="#g2e" x="1537" y="308"/><use href="#g37" x="1540" y="308"/><use href="#g30" x="1545" y="308"/>
<use href="#g32" x="1517" y="340"/><use href="#g33" x="1522" y="340"/><use href="#g30" x="1527" y="340"/><use href="#g32" x="1532" y="340"/><use href="#g2e" x="1537" y="340"/><use href="#g37" x="1540" y="340"/><use href="#g30" x="1545" y="340"/>
<use href="#g31" x="1517" y="379"/><use href="#g30" x="1522" y="379"/><use href="#g30" x="1527" y="379"/><use href="#g2e" x="1532" y="379"/><use href="#g30" x="1535" y="379"/><use href="#g30" x="1540" y="379"/>
<use href="#g38" x="1517" y="412"/><use href="#g30" x="1522" y="412"/><use href="#g2e" x="1527" y="412"/><use href="#g30" x="1530" y="412"/><use href="#g30" x="1535" y="412"/>
<use href="#g32" x="1517" y="524"/><use href="#g30" x="1522" y="524"/><use href="#g2e" x="1527" y="524"/><use href="#g30" x="1530" y="524"/><use href="#g30" x="1535" y="524"/>
<use href="#g30" x="1517" y="556"/><use href="#g2e" x="1522" y="556"/><use href="#g30" x="1525" y="556"/><use href="#g30" x="1530" y="556"/>
<use href="#g32" x="-1" y="571"/><use href="#g4a" x="7" y="571"/><use href="#g75" x="11" y="571"/><use href="#g6c" x="16" y="571"/><use href="#g32" x="21" y="571"/><use href="#g30" x="26" y="571"/><use href="#g32" x="31" y="571"/><use href="#g34" x="36" y="571"/>
<use href="#g38" x="63" y="571"/><use href="#g4a" x="71" y="571"/><use href="#g75" x="75" y="571"/><use href="#g6c" x="80" y="571"/><use href="#g32" x="85" y="571"/><use href="#g30" x="90" y="571"/><use href="#g32" x="95" y="571"/><use href="#g34" x="100" y="571"/>
<use href="#g31" x="127" y="571"/><use href="#g32" x="132" y="571"/><use href="#g4a" x="140" y="571"/><use href="#g75" x="144" y="571"/><use href="#g6c" x="149" y="571"/><use href="#g32" x="154" y="571"/><use href="#g30" x="159" y="571"/><use href="#g32" x="164" y="571"/><use href="#g34" x="169" y="571"/>
<use href="#g31" x="191" y="571"/><use href="#g38" x="196" y="571"/><use href="#g4a" x="204" y="571"/><use href="#g75" x="208" y="571"/><use href="#g6c" x="213" y="571"/><use href="#g32" x="218" y="571"/><use href="#g30" x="223" y="571"/><use href="#g32" x="228" y="571"/><use href="#g34" x="233" y="571"/>
<use href="#g32" x="255" y="571"/><use href="#g34" x="260" y="571"/><use href="#g4a" x="268" y="571"/><use href="#g75" x="272" y="571"/><use href="#g6c" x="277" y="571"/><use href="#g32" x="282" y="571"/><use href="#g30" x="287" y="571"/><use href="#g32" x="292" y="571"/><use href="#g34" x="297" y="571"/>
<use href="#g33" x="319" y="571"/><use href="#g30" x="324" y="571"/><use href="#g4a" x="332" y="571"/><use href="#g75" x="336" y="571"/><use href="#g6c" x="341" y="571"/><use href="#g32" x="346" y="571"/><use href="#g30" x="351" y="571"/><use href="#g32" x="356" y="571"/><use href="#g34" x="361" y="571"/>
<use href="#g35" x="383" y="571"/><use href="#g41" x="391" y="571"/><use href="#g75" x="398" y="571"/><use href="#g67" x="403" y="571"/><use href="#g32" x="411" y="571"/><use href="#g30" x="416" y="571"/><use href="#g32" x="421" y="571"/><use href="#g34" x="426" y="571"/>
<use href="#g39" x="447" y="571"/><use href="#g41" x="455" y="571"/><use href="#g75" x="462" y="571"/><use href="#g67" x="467" y="571"/><use href="#g32" x="475" y="571"/><use href="#g30" x="480" y="571"/><use href="#g32" x="485" y="571"/><use href="#g34" x="490" y="571"/>
<use href="#g31" x="511" y="571"/><use href="#g35" x="516" y="571"/><use href="#g41" x="524" y="571"/><use href="#g75" x="531" y="571"/><use href="#g67" x="536" y="571"/><use href="#g32" x="544" y="571"/><use href="#g30" x="549" y="571"/><use href="#g32" x="554" y="571"/><use href="#g34" x="559" y="571"/>
<use href="#g32" x="575" y="571"/><use href="#g31" x="580" y="571"/><use href="#g41" x="588" y="571"/><use href="#g75" x="595" y="571"/><use href="#g67" x="600" y="571"/><use href="#g32" x="608" y="571"/><use href="#g30" x="613" y="571"/><use href="#g32" x="618" y="571"/><use href="#g34" x="623" y="571"/>
<use href="#g32" x="639" y="571"/><use href="#g37" x="644" y="571"/><use href="#g41" x="652" y="571"/><use href="#g75" x="659" y="571"/><use href="#g67" x="664" y="571"/><use href="#g32" x="672" y="571"/><use href="#g30" x="677" y="571"/><use href="#g32" x="682" y="571"/><use href="#g34" x="687" y="571"/>
<use href="#g32" x="703" y="571"/><use href="#g53" x="711" y="571"/><use href="#g65" x="717" y="571"/><use href="#g70" x="722" y="571"/><use href="#g32" x="730" y="571"/><use href="#g30" x="735" y="571"/><use href="#g32" x="740" y="571"/><use href="#g34" x="745" y="571"/>
<use href="#g36" x="767" y="571"/><use href="#g53" x="775" y="571"/><use href="#g65" x="781" y="571"/><use href="#g70" x="786" y="571"/><use href="#g32" x="794" y="571"/><use href="#g30" x="799" y="571"/><use href="#g32" x="804" y="571"/><use href="#g34" x="809" y="571"/>
<use href="#g31" x="831" y="571"/><use href="#g32" x="836" y="571"/><use href="#g53" x="844" y="571"/><use href="#g65" x="850" y="571"/><use href="#g70" x="855" y="571"/><use href="#g32" x="863" y="571"/><use href="#g30" x="868" y="571"/><use href="#g32" x="873" y="571"/><use href="#g34" x="878" y="571"/>
<use href="#g31" x="895" y="571"/><use href="#g38" x="900" y="571"/><use href="#g53" x="908" y="571"/><use href="#g65" x="914" y="571"/><use href="#g70" x="919" y="571"/><use href="#g32" x="927" y="571"/><use href="#g30" x="932" y="571"/><use href="#g32" x="937" y="571"/><use href="#g34" x="942" y="571"/>
<use href="#g32" x="959" y="571"/><use href="#g34" x="964" y="571"/><use href="#g53" x="972" y="571"/><use href="#g65" x="978" y="571"/><use href="#g70" x="983" y="571"/><use href="#g32" x="991" y="571"/><use href="#g30" x="996" y="571"/><use href="#g32" x="1001" y="571"/><use href="#g34" x="1006" y="571"/>
<use href="#g33" x="1023" y="571"/><use href="#g30" x="1028" y="571"/><use href="#g53" x="1036" y="571"/><use href="#g65" x="1042" y="571"/><use href="#g70" x="1047" y="571"/><use href="#g32" x="1055" y="571"/><use href="#g30" x="1060" y="571"/><use href="#g32" x="1065" y="571"/><use href="#g34" x="1070" y="571"/>
<use href="#g34" x="1087" y="571"/><use href="#g4f" x="1095" y="571"/><use href="#g63" x="1103" y="571"/><use href="#g74" x="1107" y="571"/><use href="#g32" x="1113" y="571"/><use href="#g30" x="1118" y="571"/><use href="#g32" x="1123" y="571"/><use href="#g34" x="1128" y="571"/>
<use href="#g31" x="1151" y="571"/><use href="#g30" x="1156" y="571"/><use href="#g4f" x="1164" y="571"/><use href="#g63" x="1172" y="571"/><use href="#g74" x="1176" y="571"/><use href="#g32" x="1182" y="571"/><use href="#g30" x="1187" y="571"/><use href="#g32" x="1192" y="571"/><use href="#g34" x="1197" y="571"/>
<use href="#g31" x="1215" y="571"/><use href="#g36" x="1220" y="571"/><use href="#g4f" x="1228" y="571"/><use href="#g63" x="1236" y="571"/><use href="#g74" x="1240" y="571"/><use href="#g32" x="1246" y="571"/><use href="#g30" x="1251" y="571"/><use href="#g32" x="1256" y="571"/><use href="#g34" x="1261" y="571"/>
<use href="#g32" x="1279" y="571"/><use href="#g32" x="1284" y="571"/><use href="#g4f" x="1292" y="571"/><use href="#g63" x="1300" y="571"/><use href="#g74" x="1304" y="571"/><use href="#g32" x="1310" y="571"/><use href="#g30" x="1315" y="571"/><use href="#g32" x="1320" y="571"/><use href="#g34" x="1325" y="571"/>
<use href="#g32" x="1343" y="571"/><use href="#g38" x="1348" y="571"/><use href="#g4f" x="1356" y="571"/><use href="#g63" x="1364" y="571"/><use href="#g74" x="1368" y="571"/><use href="#g32" x="1374" y="571"/><use href="#g30" x="1379" y="571"/><use href="#g32" x="1384" y="571"/><use href="#g34" x="1389" y="571"/>
<use href="#g31" x="1407" y="571"/><use href="#g4e" x="1415" y="571"/><use href="#g6f" x="1422" y="571"/><use href="#g76" x="1427" y="571"/><use href="#g32" x="1436" y="571"/><use href="#g30" x="1441" y="571"/><use href="#g32" x="1446" y="571"/><use href="#g34" x="1451" y="571"/>
<use href="#g37" x="1471" y="571"/><use href="#g4e" x="1479" y="571"/><use href="#g6f" x="1486" y="571"/><use href="#g76" x="1491" y="571"/><use href="#g32" x="1500" y="571"/><use href="#g30" x="1505" y="571"/><use href="#g32" x="1510" y="571"/><use href="#g34" x="1515" y="571"/>
<use href="#g53" x="3" y="383"/><use href="#g74" x="9" y="383"/><use href="#g6f" x="12" y="383"/><use href="#g63" x="17" y="383"/><use href="#g68" x="21" y="383"/><use href="#g28" x="26" y="383"/><use href="#g33" x="29" y="383"/><use href="#g37" x="34" y="383"/><use href="#g2c" x="39" y="383"/><use href="#g33" x="42" y="383"/><use href="#g2c" x="47" y="383"/><use href="#g39" x="50" y="383"/><use href="#g29" x="55" y="383"/><use href="#g37" x="61" y="383"/><use href="#g37" x="66" y="383"/><use href="#g2e" x="71" y="383"/><use href="#g37" x="74" y="383"/><use href="#g34" x="79" y="383"/><use href="#g38" x="87" y="383"/><use href="#g31" x="92" y="383"/><use href="#g2e" x="97" y="383"/><use href="#g35" x="100" y="383"/><use href="#g30" x="105" y="383"/>
<use href="#g58" x="46" y="7"/><use href="#g41" x="51" y="7"/><use href="#g55" x="58" y="7"/><use href="#g55" x="65" y="7"/><use href="#g53" x="72" y="7"/><use href="#g44" x="78" y="7"/><use href="#g2c" x="85" y="7"/><use href="#g44" x="91" y="7"/><use href="#g61" x="98" y="7"/><use href="#g69" x="103" y="7"/><use href="#g6c" x="105" y="7"/><use href="#g79" x="107" y="7"/><use href="#g3a" x="113" y="7"/><use href="#g47" x="122" y="7"/><use href="#g6f" x="129" y="7"/><use href="#g6c" x="134" y="7"/><use href="#g64" x="136" y="7"/><use href="#g76" x="144" y="7"/><use href="#g73" x="150" y="7"/><use href="#g55" x="157" y="7"/><use href="#g53" x="164" y="7"/><use href="#g44" x="173" y="7"/><use href="#g6f" x="180" y="7"/><use href="#g6c" x="185" y="7"/><use href="#g6c" x="187" y="7"/><use href="#g61" x="189" y="7"/><use href="#g72" x="194" y="7"/>
</g>
<rect x="1514" y="79" width="39" height="11" fill="#778899"/>
<g fill="#000">
<use href="#g32" x="1517" y="80"/><use href="#g36" x="1522" y="80"/><use href="#g38" x="1527" y="80"/><use href="#g34" x="1532" y="80"/><use href="#g2e" x="1537" y="80"/><use href="#g34" x="1540" y="80"/><use href="#g39" x="1545" y="80"/>
</g>
<g><rect x="5" y="7" width="13" height="9" fill="#ffffff"/><rect x="4" y="6" width="1" height="11" fill="#e03a30"/><rect x="4" y="6" width="7" height="1" fill="#e03a30"/><rect x="4" y="16" width="7" height="1" fill="#e03a30"/><rect x="11" y="6" width="7" height="1" fill="#22b5a8"/><rect x="11" y="16" width="7" height="1" fill="#22b5a8"/><rect x="18" y="7" width="1" height="9" fill="#22b5a8"/><rect x="6" y="8" width="5" height="1" fill="#e03a30"/><rect x="12" y="8" width="5" height="1" fill="#22b5a8"/><rect x="6" y="11" width="5" height="1" fill="#e03a30"/><rect x="12" y="11" width="5" height="1" fill="#22b5a8"/><rect x="6" y="14" width="5" height="1" fill="#e03a30"/><rect x="12" y="14" width="5" height="1" fill="#22b5a8"/><rect x="12" y="9" width="5" height="2" fill="#dcc8c8"/><rect x="12" y="12" width="5" height="2" fill="#dcc8c8"/><rect x="25" y="6" width="4" height="11" fill="#e03a30"/><rect x="25" y="10" width="7" height="7" fill="#e03a30"/><rect x="26" y="7" width="2" height="9" fill="#ffffff"/><rect x="26" y="11" width="5" height="5" fill="#ffffff"/><rect x="28" y="12" width="1" height="1" fill="#a0a0a0"/><rect x="27" y="13" width="1" height="1" fill="#a0a0a0"/><rect x="29" y="13" width="1" height="1" fill="#a0a0a0"/><rect x="30" y="6" width="5" height="3" fill="#8494ac"/><rect x="31" y="7" width="3" height="1" fill="#ffffff"/><rect x="36" y="6" width="3" height="11" fill="#22b5a8"/><rect x="33" y="10" width="6" height="7" fill="#22b5a8"/><rect x="39" y="7" width="1" height="9" fill="#22b5a8"/><rect x="37" y="7" width="2" height="9" fill="#dcc8c8"/><rect x="34" y="11" width="5" height="5" fill="#dcc8c8"/><rect x="36" y="12" width="1" height="1" fill="#ffffff"/><rect x="37" y="13" width="1" height="1" fill="#ffffff"/><rect x="36" y="14" width="1" height="1" fill="#ffffff"/></g>
</svg>
</body></html>
